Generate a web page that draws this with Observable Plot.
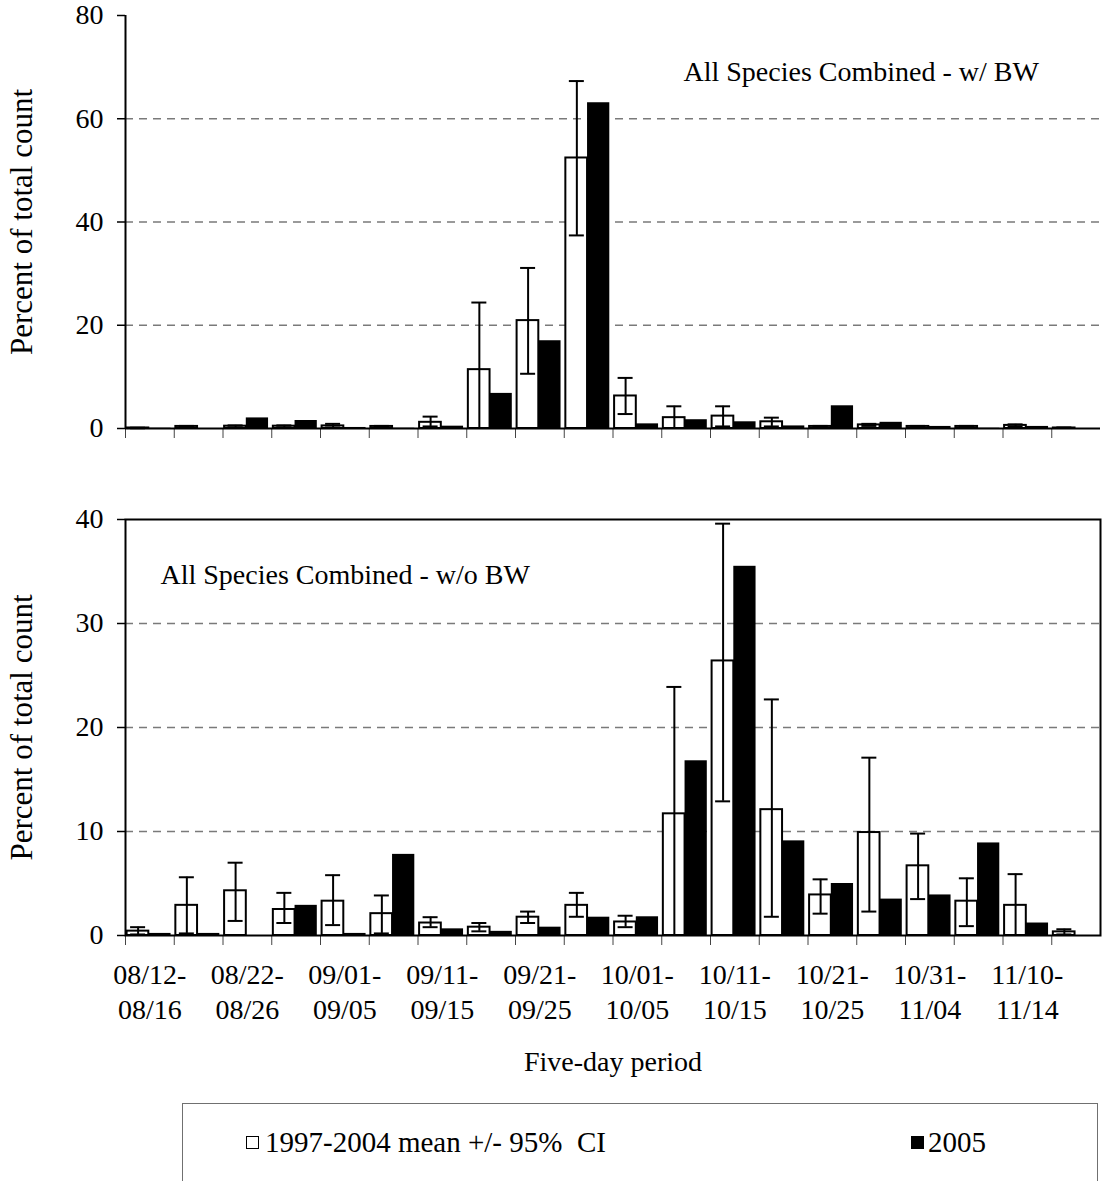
<!DOCTYPE html>
<html>
<head>
<meta charset="utf-8">
<script src="https://cdn.jsdelivr.net/npm/d3@7"></script>
<script src="https://cdn.jsdelivr.net/npm/@observablehq/plot@0.6"></script>
<style>
  body { margin: 0; background: #fff; }
  #wrap { position: relative; width: 1102px; height: 1181px; overflow: hidden; font-family: "Liberation Serif", "Times New Roman", serif; color: #000; }
  #top { position: absolute; left: 0; top: 0; }
  #bottom { position: absolute; left: 0; top: 470px; }
  #legend { position: absolute; left: 182px; top: 1103px; width: 916px; height: 120px; border: 1.5px solid #707070; box-sizing: border-box; }
  .sq { position: absolute; top: 32px; width: 13px; height: 13px; box-sizing: border-box; border: 1.5px solid #000; }
  .lt { position: absolute; top: 20px; font-size: 29px; line-height: 36px; white-space: pre; }
</style>
</head>
<body>
<div id="wrap">
  <div id="top"></div>
  <div id="bottom"></div>
  <div id="legend">
    <div class="sq" style="left:63px;background:#fff;"></div>
    <div class="lt" style="left:82px;">1997-2004 mean +/- 95%  CI</div>
    <div class="sq" style="left:728px;background:#000;"></div>
    <div class="lt" style="left:745px;">2005</div>
  </div>
</div>
<script>
// Five-day periods
const periodStart = ["08/12","08/17","08/22","08/27","09/01","09/06","09/11","09/16","09/21","09/26",
                     "10/01","10/06","10/11","10/16","10/21","10/26","10/31","11/05","11/10","11/15"];
const periodEnd   = ["08/16","08/21","08/26","08/31","09/05","09/10","09/15","09/20","09/25","09/30",
                     "10/05","10/10","10/15","10/20","10/25","10/30","11/04","11/09","11/14","11/19"];

// Panel 1: All Species Combined - w/ BW
const withBWMean = [0.1, 0.4, 0.45, 0.45, 0.5, 0.4, 1.2, 11.4, 20.9, 52.4, 6.3, 2.1, 2.4, 1.3, 0.4, 0.7, 0.4, 0.4, 0.6, 0.1];
const withBWLow  = [0.05, 0.2, 0.2, 0.2, 0.2, 0.2, 0.4, 0, 10.6, 37.4, 2.8, 0, 0.4, 0.4, 0.2, 0.5, 0.2, 0.2, 0.3, 0];
const withBWHigh = [0.15, 0.5, 0.6, 0.6, 0.9, 0.5, 2.3, 24.4, 31.1, 67.3, 9.8, 4.3, 4.3, 2.1, 0.5, 0.9, 0.5, 0.5, 0.8, 0.2];
const withBW2005 = [0.05, 0, 2.05, 1.55, 0.2, 0.05, 0.45, 6.8, 17.0, 63.1, 0.9, 1.7, 1.3, 0.5, 4.4, 1.2, 0.4, 0.05, 0.4, 0];

// Panel 2: All Species Combined - w/o BW
const withoutBWMean = [0.42, 2.9, 4.3, 2.5, 3.3, 2.1, 1.2, 0.8, 1.76, 2.9, 1.3, 11.7, 26.4, 12.1, 3.9, 9.9, 6.7, 3.3, 2.9, 0.35];
const withoutBWLow  = [0.1, 0.2, 1.4, 1.2, 1.0, 0.2, 0.8, 0.4, 1.2, 1.8, 0.8, 0, 12.9, 1.8, 2.1, 2.3, 3.5, 0.9, 0, 0.1];
const withoutBWHigh = [0.8, 5.6, 7.0, 4.1, 5.8, 3.85, 1.76, 1.2, 2.3, 4.1, 1.9, 23.9, 39.6, 22.7, 5.4, 17.1, 9.8, 5.5, 5.9, 0.6];
const withoutBW2005 = [0.2, 0.2, 0, 2.9, 0.2, 7.8, 0.64, 0.4, 0.8, 1.76, 1.8, 16.8, 35.5, 9.1, 5.0, 3.5, 3.9, 8.9, 1.2, 0];

const topTicks = [0, 20, 40, 60, 80];
const topGrid = [20, 40, 60];
const bottomTicks = [0, 10, 20, 30, 40];
const bottomGrid = [10, 20, 30];

const categories = periodStart.map((s, i) => s + "-" + periodEnd[i]);

const W = 1102, ML = 125, MR = 2;
const BW = (W - ML - MR) / categories.length;
const errDx = 12.6 - BW / 2;
const capHalf = 7.5;

function rowsOf(mean, lo, hi, y2005) {
  return categories.map((c, i) => ({period: c, start: periodStart[i], end: periodEnd[i], mean: mean[i], lo: lo[i], hi: hi[i], y2005: y2005[i], idx: i}));
}

function commonMarks(rows, grid) {
  return [
    Plot.ruleY(grid, {stroke: "#7a7a7a", strokeWidth: 1.3, strokeDasharray: "8,6"}),
    Plot.barY(rows, {x: "period", y: "mean", fill: "white", stroke: "black", strokeWidth: 2, insetLeft: 1.6, insetRight: BW - 23.3}),
    Plot.barY(rows, {x: "period", y: "y2005", fill: "black", insetLeft: 23.3, insetRight: 3.2}),
    Plot.ruleX(rows, {x: "period", y1: "lo", y2: "hi", dx: errDx, stroke: "black", strokeWidth: 2}),
    Plot.tickY(rows, {x: "period", y: "hi", stroke: "black", strokeWidth: 2, insetLeft: 12.6 - capHalf, insetRight: BW - 12.6 - capHalf}),
    Plot.tickY(rows.filter(d => d.lo > 0), {x: "period", y: "lo", stroke: "black", strokeWidth: 2, insetLeft: 12.6 - capHalf, insetRight: BW - 12.6 - capHalf}),
    Plot.axisX({tickSize: 10, tickFormat: () => "", label: null, dx: -BW / 2, stroke: "#444"}),
    Plot.text(["Percent of total count"], {frameAnchor: "left", dx: -103, rotate: -90, textAnchor: "middle", lineAnchor: "middle", fontSize: 31})
  ];
}

const plotStyle = {fontFamily: '"Liberation Serif", "Times New Roman", serif', fontSize: "28px", color: "black", background: "white", overflow: "visible"};

// Top panel
const topRows = rowsOf(withBWMean, withBWLow, withBWHigh, withBW2005);
const topPlot = Plot.plot({
  width: W, height: 470,
  marginLeft: ML, marginRight: MR, marginTop: 15, marginBottom: 42,
  style: plotStyle,
  x: {type: "band", domain: categories, padding: 0, round: false, label: null},
  y: {domain: [0, 80], label: null},
  marks: [
    ...commonMarks(topRows, topGrid),
    Plot.axisY({ticks: topTicks, tickSize: 8, tickPadding: 14, label: null, strokeWidth: 1.5}),
    Plot.ruleX([categories[0]], {dx: -BW / 2, stroke: "black", strokeWidth: 2}),
    Plot.ruleY([0], {stroke: "black", strokeWidth: 2}),
    Plot.text(["All Species Combined - w/ BW"], {frameAnchor: "top-left", dx: 683 - ML, dy: 72 - 15, textAnchor: "start", lineAnchor: "middle"})
  ]
});
document.getElementById("top").appendChild(topPlot);

// Bottom panel
const bottomRows = rowsOf(withoutBWMean, withoutBWLow, withoutBWHigh, withoutBW2005);
const labelRows = bottomRows.filter(d => d.idx % 2 === 0);
const bottomPlot = Plot.plot({
  width: W, height: 630,
  marginLeft: ML, marginRight: MR, marginTop: 49, marginBottom: 165,
  style: plotStyle,
  x: {type: "band", domain: categories, padding: 0, round: false, label: null},
  y: {domain: [0, 40], label: null},
  marks: [
    ...commonMarks(bottomRows, bottomGrid),
    Plot.axisY({ticks: bottomTicks, tickSize: 8, tickPadding: 14, label: null, strokeWidth: 1.5}),
    Plot.frame({stroke: "black", strokeWidth: 2}),
    Plot.text(labelRows, {x: "period", text: d => d.start + "-", frameAnchor: "bottom", dy: 40, lineAnchor: "middle"}),
    Plot.text(labelRows, {x: "period", text: "end", frameAnchor: "bottom", dy: 75, lineAnchor: "middle"}),
    Plot.text(["Five-day period"], {frameAnchor: "bottom", dy: 127, lineAnchor: "middle"}),
    Plot.text(["All Species Combined - w/o BW"], {frameAnchor: "top-left", dx: 160 - ML, dy: 575 - 519, textAnchor: "start", lineAnchor: "middle"})
  ]
});
document.getElementById("bottom").appendChild(bottomPlot);
</script>
</body>
</html>
